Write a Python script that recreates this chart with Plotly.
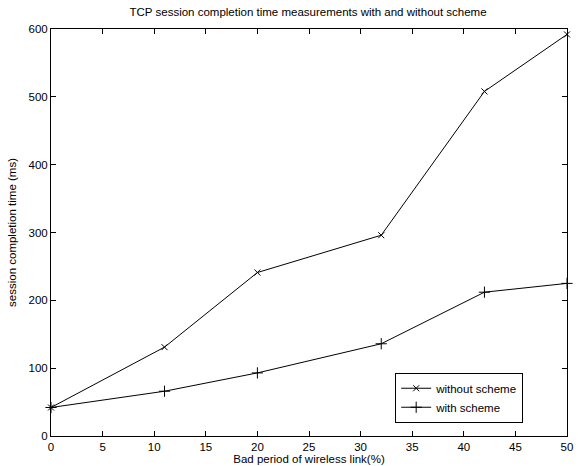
import plotly.graph_objects as go

bad_period = [0, 11, 20, 32, 42, 50]
without_scheme = [42, 131, 241, 296, 508, 592]
with_scheme = [42, 66, 93, 136, 212, 225]
x_ticks = [0, 5, 10, 15, 20, 25, 30, 35, 40, 45, 50]
y_ticks = [0, 100, 200, 300, 400, 500, 600]

fig = go.Figure()
fig.add_trace(go.Scatter(
    x=bad_period, y=without_scheme, name="without scheme",
    mode="lines+markers",
    line=dict(color="black", width=1),
    marker=dict(symbol="x-thin", size=6, color="black", line=dict(color="black", width=1)),
    cliponaxis=False,
))
fig.add_trace(go.Scatter(
    x=bad_period, y=with_scheme, name="with scheme",
    mode="lines+markers",
    line=dict(color="black", width=1),
    marker=dict(symbol="cross-thin", size=8, color="black", line=dict(color="black", width=1)),
    cliponaxis=False,
))

axis_common = dict(
    showgrid=False, zeroline=False, showline=True, linecolor="black", linewidth=1,
    mirror="ticks", ticks="inside", ticklen=5, tickcolor="black", automargin=False,
    tickfont=dict(family="Liberation Sans, Arial, sans-serif", size=11.5, color="black"),
)

fig.update_layout(
    width=578, height=466,
    margin=dict(l=51, r=11, t=29, b=30),
    paper_bgcolor="white", plot_bgcolor="white",
    font=dict(family="Liberation Sans, Arial, sans-serif", size=11.5, color="black"),
    title=dict(text="TCP session completion time measurements with and without scheme",
               x=0.533, xanchor="center", y=0.974, yanchor="middle",
               font=dict(size=11.5, color="black")),
    xaxis=dict(range=[0, 50], tickvals=x_ticks,
               title=dict(text="Bad period of wireless link(%)", standoff=0, font=dict(size=11.5)),
               **axis_common),
    yaxis=dict(range=[0, 600], tickvals=y_ticks,
               title=dict(text="session completion time (ms)", standoff=9, font=dict(size=11.5)),
               **axis_common),
    legend=dict(x=0.667, y=0.094, xanchor="left", yanchor="middle",
                bordercolor="black", borderwidth=1, bgcolor="white",
                font=dict(size=11.5), tracegroupgap=0, itemwidth=30),
    showlegend=True,
)

fig.write_html(
    "out.html",
    config={"displayModeBar": False},
    post_script="document.body.style.margin='0';document.body.style.padding='0';",
)
